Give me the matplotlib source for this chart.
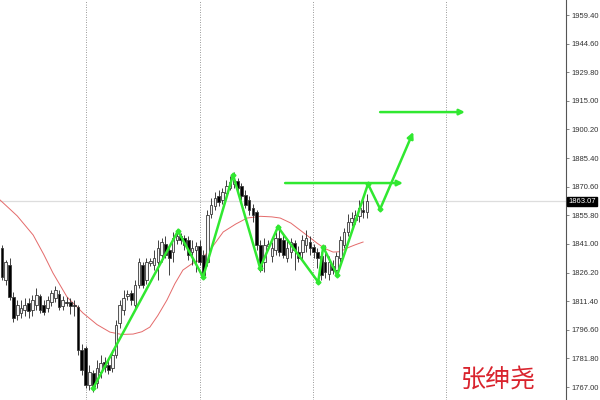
import matplotlib
matplotlib.use("Agg")
import matplotlib.pyplot as plt

# hourly candles (price)
opens = [1838.9, 1822.4, 1830.2, 1813.7, 1804.3, 1805.3, 1806.9, 1810.5, 1806.9, 1809.5,
         1814.2, 1809.5, 1807.9, 1811.1, 1813.1, 1815.2, 1808.8, 1811.1, 1811.1, 1809.5,
         1808.4, 1786.2, 1787.2, 1768.1, 1774.4, 1769.1, 1774.9, 1780.0, 1778.5, 1776.9,
         1783.6, 1800.2, 1806.9, 1814.2, 1815.7, 1809.5, 1819.8, 1830.2, 1822.4, 1831.2,
         1830.2, 1831.8, 1835.3, 1841.0, 1837.9, 1836.9, 1843.1, 1845.2, 1844.1, 1843.1,
         1836.9, 1837.9, 1840.0, 1835.3, 1831.8, 1856.6, 1860.7, 1865.9, 1863.8, 1867.4,
         1870.0, 1872.1, 1873.6, 1871.0, 1866.4, 1863.8, 1859.7, 1857.6, 1840.5, 1831.8,
         1840.0, 1834.8, 1837.9, 1844.1, 1843.1, 1833.8, 1836.9, 1841.6, 1836.9, 1836.9,
         1840.5, 1842.1, 1839.5, 1836.9, 1834.8, 1831.8, 1825.5, 1829.7, 1827.6, 1833.8,
         1840.5, 1847.3, 1852.4, 1853.5, 1855.5, 1858.6, 1857.6]
highs = [1840.5, 1832.8, 1833.8, 1816.3, 1812.1, 1812.1, 1813.1, 1813.1, 1814.7, 1818.3,
         1815.2, 1812.1, 1814.2, 1817.3, 1819.3, 1817.3, 1814.2, 1813.7, 1813.1, 1812.1,
         1809.5, 1789.3, 1788.3, 1778.5, 1775.9, 1781.1, 1783.6, 1782.6, 1781.1, 1786.2,
         1801.7, 1812.1, 1817.3, 1817.3, 1817.3, 1822.4, 1833.8, 1831.8, 1833.8, 1833.8,
         1837.9, 1843.1, 1844.1, 1845.2, 1840.5, 1847.3, 1848.3, 1846.7, 1845.7, 1845.2,
         1843.1, 1842.1, 1843.1, 1837.9, 1858.6, 1864.8, 1867.9, 1869.0, 1870.0, 1874.1,
         1876.2, 1878.3, 1875.2, 1872.6, 1869.0, 1865.9, 1861.7, 1858.6, 1843.1, 1844.1,
         1843.1, 1842.1, 1847.3, 1850.3, 1845.7, 1843.1, 1844.1, 1843.1, 1840.0, 1845.7,
         1848.3, 1845.2, 1841.0, 1838.9, 1836.9, 1840.5, 1834.8, 1832.8, 1836.9, 1845.2,
         1849.3, 1856.6, 1857.6, 1858.6, 1863.8, 1863.8, 1866.9]
lows = [1822.4, 1819.8, 1812.1, 1800.6, 1801.7, 1802.7, 1803.8, 1802.7, 1803.8, 1806.9,
        1805.3, 1804.3, 1805.9, 1808.8, 1811.1, 1806.9, 1806.9, 1808.8, 1804.8, 1803.8,
        1783.6, 1773.3, 1766.6, 1765.6, 1764.5, 1766.6, 1771.7, 1774.9, 1773.8, 1774.9,
        1782.1, 1797.6, 1804.3, 1812.1, 1809.5, 1806.9, 1818.3, 1818.3, 1820.3, 1829.7,
        1827.6, 1822.4, 1831.8, 1833.8, 1825.0, 1831.8, 1841.0, 1841.0, 1837.9, 1832.8,
        1830.2, 1826.6, 1830.2, 1823.5, 1829.7, 1854.5, 1858.6, 1860.7, 1861.7, 1865.9,
        1869.0, 1870.0, 1867.9, 1863.8, 1859.7, 1856.1, 1852.4, 1837.9, 1826.6, 1826.6,
        1837.9, 1831.8, 1835.3, 1834.8, 1833.8, 1831.8, 1833.8, 1827.6, 1831.8, 1832.8,
        1836.9, 1835.3, 1833.8, 1828.6, 1822.4, 1823.5, 1822.4, 1825.5, 1824.5, 1831.8,
        1838.9, 1845.2, 1850.3, 1851.4, 1852.4, 1854.5, 1854.5]
closes = [1824.0, 1831.8, 1813.7, 1802.7, 1809.5, 1807.9, 1809.5, 1806.4, 1812.1, 1814.7,
          1806.9, 1805.9, 1812.1, 1815.7, 1817.3, 1808.4, 1812.1, 1810.5, 1808.8, 1808.8,
          1786.2, 1775.9, 1768.1, 1774.9, 1767.6, 1776.9, 1779.5, 1777.5, 1775.9, 1783.6,
          1799.1, 1809.5, 1813.1, 1815.2, 1812.1, 1819.8, 1831.8, 1819.8, 1831.8, 1832.3,
          1833.8, 1839.0, 1842.1, 1835.3, 1833.8, 1844.1, 1845.2, 1843.1, 1840.5, 1835.3,
          1839.0, 1840.0, 1831.8, 1825.0, 1856.1, 1861.2, 1864.8, 1862.8, 1867.9, 1871.0,
          1873.1, 1874.1, 1870.0, 1865.9, 1861.2, 1858.6, 1856.1, 1840.5, 1827.6, 1840.5,
          1841.0, 1839.0, 1844.1, 1836.9, 1835.3, 1839.0, 1842.1, 1837.9, 1833.8, 1843.1,
          1844.1, 1839.0, 1836.9, 1833.8, 1825.0, 1826.6, 1831.8, 1827.6, 1834.8, 1843.1,
          1847.3, 1852.4, 1854.5, 1856.1, 1859.7, 1857.6, 1863.07]

# moving average, sampled along the red line (bar, price)
ma_bars = [-0.5, 4.0, 8.2, 11.0, 13.4, 17.1, 21.3, 25.0, 28.4, 31.5, 34.5, 36.8, 38.9,
           41.0, 43.4, 45.5, 47.6, 50.0, 52.1, 55.0, 58.2, 61.5, 64.5, 68.0, 71.0, 73.2,
           76.0, 78.4, 80.8, 82.9, 85.0, 87.1, 89.0, 90.8, 93.0, 95.0]
ma_vals = [1863.7, 1855.5, 1845.6, 1835.5, 1826.0, 1813.6, 1805.3, 1799.3, 1795.4, 1794.2,
           1794.4, 1795.6, 1798.0, 1804.0, 1812.0, 1820.5, 1827.5, 1830.8, 1832.7, 1838.5,
           1847.2, 1851.3, 1854.4, 1855.3, 1855.0, 1854.4, 1851.8, 1848.2, 1844.6, 1841.4,
           1838.6, 1836.8, 1837.0, 1838.9, 1840.6, 1842.0]

# hand drawn zigzag and arrows (bar, price)
zz_bars = [24.0, 46.3, 52.9, 60.8, 67.9, 72.6, 83.2, 84.5, 88.2, 96.3, 99.5, 108.2]
zz_vals = [1766.5, 1847.7, 1823.9, 1876.7, 1828.6, 1849.8, 1821.3, 1839.4, 1824.9, 1872.0, 1859.1, 1898.9]
h_arrows = [(74.5, 105.5, 1872.5), (99.5, 121.8, 1909.2)]

separators = [22.1, 52.1, 81.8, 116.8]
last_price = 1863.07
yticks = [1767.0 + 14.8 * k for k in range(14)]

green = '#30e830'

fig = plt.figure(figsize=(6, 4), dpi=100)
ax = fig.add_axes([0, 0, 566 / 600, 1])
ax.set_xlim(-0.53, 148.4)
ax.set_ylim(1760.3, 1967.16)

for s in separators:
    ax.axvline(s, color='#777777', lw=0.6, ls=(0, (1, 2)), zorder=1)
ax.axhline(last_price, color='#dddddd', lw=0.9, zorder=1)

ax.plot(ma_bars, ma_vals, color='#e46a6a', lw=0.7, zorder=2)

for i in range(len(closes)):
    o, h, l, c = opens[i], highs[i], lows[i], closes[i]
    ax.vlines(i, l, h, color='#222222', lw=0.6, zorder=3)
    bull = c >= o
    ax.bar(i, max(abs(c - o), 0.3), bottom=min(o, c), width=0.7,
           color='#f4f4f4' if bull else 'black', edgecolor='#3a3a3a', lw=0.6, zorder=4)

ax.plot(zz_bars[:-1], zz_vals[:-1], color=green, lw=1.8, zorder=5,
        marker='D', markersize=2.5, solid_joinstyle='miter')
ax.annotate('', xy=(zz_bars[-1], zz_vals[-1]), xytext=(zz_bars[-2], zz_vals[-2]),
            arrowprops=dict(arrowstyle='-|>', color=green, lw=1.8, mutation_scale=9,
                            shrinkA=0, shrinkB=0), zorder=5)
for x0, x1, yv in h_arrows:
    ax.annotate('', xy=(x1, yv), xytext=(x0, yv),
                arrowprops=dict(arrowstyle='-|>', color=green, lw=1.8, mutation_scale=8,
                                shrinkA=0, shrinkB=0), zorder=5)

for side in ['left', 'top', 'bottom']:
    ax.spines[side].set_visible(False)
ax.spines['right'].set_color('#555555')
ax.spines['right'].set_linewidth(0.8)
ax.set_xticks([])
ax.yaxis.tick_right()
ax.set_yticks(yticks)
ax.set_yticklabels(['%.2f' % v for v in yticks], fontsize=5.5, family='Liberation Sans', color='#333333')
ax.tick_params(axis='y', length=2, width=0.5, color='#555555', pad=2)

ax.text(1.004, (last_price - 1760.3) / (1967.16 - 1760.3), '%.2f' % last_price,
        transform=ax.transAxes, fontsize=5.5, family='Liberation Sans', color='white',
        va='center', ha='left', zorder=10,
        bbox=dict(boxstyle='square,pad=0.15', fc='black', ec='black'), clip_on=False)

fig.text(498 / 600, 1 - 380 / 400, '张绅尧', fontsize=18, color='#d9232d',
         family=['Noto Sans CJK SC', 'DejaVu Sans'], ha='center', va='center')

fig.savefig('out.png', dpi=100)
